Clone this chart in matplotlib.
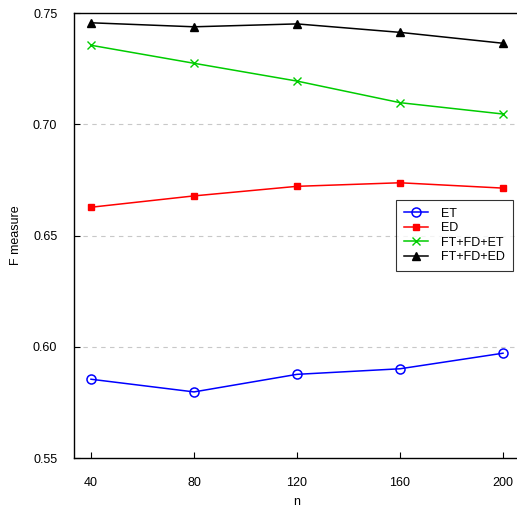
import matplotlib
matplotlib.use("Agg")
import matplotlib.pyplot as plt

plt.rcParams['font.family'] = ['Liberation Sans', 'DejaVu Sans']

n_values = [40, 80, 120, 160, 200]
et = [0.5854, 0.5797, 0.5876, 0.5901, 0.5971]
ed = [0.6627, 0.6678, 0.6721, 0.6737, 0.6713]
ft_fd_et = [0.7355, 0.7274, 0.7194, 0.7097, 0.7046]
ft_fd_ed = [0.7456, 0.7438, 0.7451, 0.7413, 0.7364]
y_ticks = [0.55, 0.60, 0.65, 0.70, 0.75]
y_tick_labels = ["0.55", "0.60", "0.65", "0.70", "0.75"]

W, H = 517, 511
fig = plt.figure(figsize=(W / 100, H / 100), dpi=100)
left, right, top, bottom = 74, 520, 13, 458
ax = fig.add_axes([left / W, 1 - bottom / H, (right - left) / W, (bottom - top) / H])

ax.plot(n_values, et, color='#0000ff', lw=1.1, marker='o', ms=6.5, mfc='none', mec='#0000ff', mew=1.1, label='ET')
ax.plot(n_values, ed, color='#ff0000', lw=1.1, marker='s', ms=4.5, label='ED')
ax.plot(n_values, ft_fd_et, color='#00cc00', lw=1.1, marker='x', ms=6, mew=1.0, label='FT+FD+ET')
ax.plot(n_values, ft_fd_ed, color='#000000', lw=1.1, marker='^', ms=5.5, label='FT+FD+ED')

for y in [0.60, 0.65, 0.70]:
    ax.axhline(y, color='#c8c8c8', lw=0.8, ls=(0, (4, 4)), zorder=0)

ax.set_xlim(33.4, 206.6)
ax.set_ylim(0.55, 0.75)
ax.set_xticks(n_values)
ax.set_xticklabels([str(v) for v in n_values])
ax.set_yticks(y_ticks)
ax.set_yticklabels(y_tick_labels)
ax.tick_params(axis='x', direction='in', length=4, width=0.8, pad=14, labelsize=9)
ax.tick_params(axis='y', direction='in', length=4, width=0.8, pad=12, labelsize=9)
for s in ax.spines.values():
    s.set_linewidth(1.0)

ax.set_xlabel('n', fontsize=9, labelpad=5)
ax.set_ylabel('F measure', fontsize=9, labelpad=8)

leg = ax.legend(loc='upper right', bbox_to_anchor=((512.7 - left) / (right - left), (bottom - 200) / (bottom - top)),
                borderaxespad=0, fontsize=9, frameon=True, fancybox=False, edgecolor='black',
                handlelength=1.9, handletextpad=1.1, labelspacing=0.2, borderpad=0.6)
leg.get_frame().set_linewidth(0.8)

fig.savefig('out.png', dpi=100)
